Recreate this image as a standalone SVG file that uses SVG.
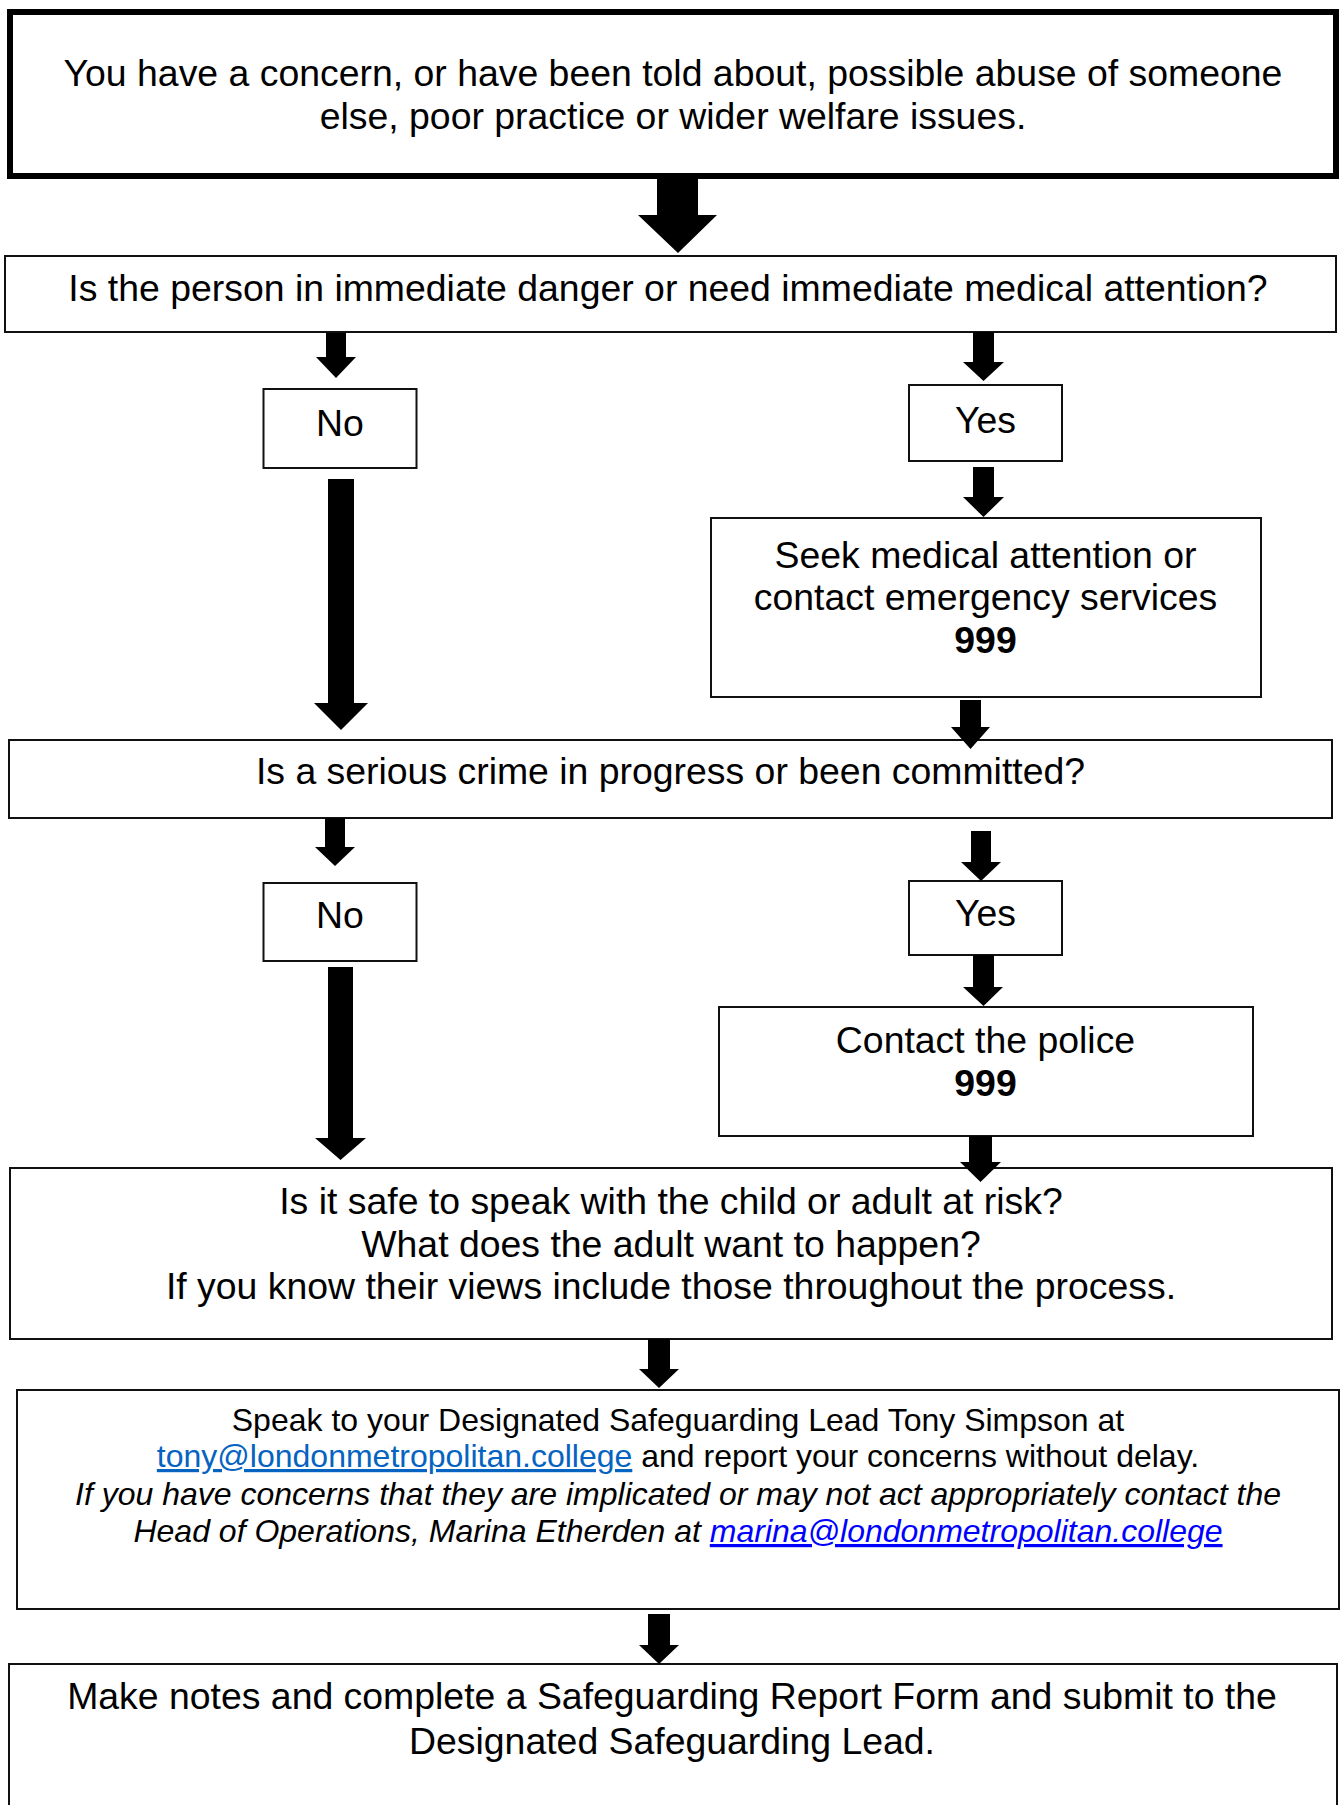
<svg xmlns="http://www.w3.org/2000/svg" width="1341" height="1805" viewBox="0 0 1341 1805">
<style>
.box{fill:#fff;stroke:#111;stroke-width:2}
.thick{fill:#fff;stroke:#000;stroke-width:6}
.t{font-family:"Liberation Sans",Arial,sans-serif;font-size:37.4px;fill:#000;text-anchor:middle}
.s{font-family:"Liberation Sans",Arial,sans-serif;font-size:32px;fill:#000;text-anchor:middle}
.b{font-weight:bold}
.i{font-style:italic}
.arr{fill:#000}
</style>
<rect width="1341" height="1805" fill="#fff"/>
<g id="start">
<rect class="thick" x="10" y="12" width="1326" height="164"/>
<text class="t" x="673" y="86">You have a concern, or have been told about, possible abuse of someone</text>
<text class="t" x="673" y="129">else, poor practice or wider welfare issues.</text>
</g>
<g id="q1">
<rect class="box" x="5" y="256" width="1331" height="76"/>
<text class="t" x="668" y="301">Is the person in immediate danger or need immediate medical attention?</text>
</g>
<g id="no1">
<rect class="box" x="263.5" y="389" width="153" height="79"/>
<text class="t" x="340" y="436">No</text>
</g>
<g id="yes1">
<rect class="box" x="909" y="385" width="153" height="76"/>
<text class="t" x="985.5" y="433">Yes</text>
</g>
<g id="medical">
<rect class="box" x="711" y="518" width="550" height="179"/>
<text class="t" x="985.5" y="568">Seek medical attention or</text>
<text class="t" x="985.5" y="610">contact emergency services</text>
<text class="t b" x="985.5" y="653">999</text>
</g>
<g id="q2">
<rect class="box" x="9" y="740" width="1323" height="78"/>
<text class="t" x="670.5" y="784">Is a serious crime in progress or been committed?</text>
</g>
<g id="no2">
<rect class="box" x="263.5" y="883" width="153" height="78"/>
<text class="t" x="340" y="928">No</text>
</g>
<g id="yes2">
<rect class="box" x="909" y="881" width="153" height="74"/>
<text class="t" x="985.5" y="926">Yes</text>
</g>
<g id="police">
<rect class="box" x="719" y="1007" width="534" height="129"/>
<text class="t" x="985.5" y="1053">Contact the police</text>
<text class="t b" x="985.5" y="1096">999</text>
</g>
<g id="q3">
<rect class="box" x="10" y="1168" width="1322" height="171"/>
<text class="t" x="671" y="1214">Is it safe to speak with the child or adult at risk?</text>
<text class="t" x="671" y="1257">What does the adult want to happen?</text>
<text class="t" x="671" y="1299">If you know their views include those throughout the process.</text>
</g>
<g id="dsl">
<rect class="box" x="17" y="1390" width="1322" height="219"/>
<text class="s" x="678" y="1431">Speak to your Designated Safeguarding Lead Tony Simpson at</text>
<text class="s" x="678" y="1467"><tspan fill="#0563C1" text-decoration="underline">tony@londonmetropolitan.college</tspan> and report your concerns without delay.</text>
<text class="s i" x="678" y="1505">If you have concerns that they are implicated or may not act appropriately contact the</text>
<text class="s i" x="678" y="1542">Head of Operations, Marina Etherden at <tspan fill="#0000FF" text-decoration="underline">marina@londonmetropolitan.college</tspan></text>
</g>
<g id="report">
<rect class="box" x="9" y="1664" width="1328" height="160"/>
<text class="t" x="672" y="1709">Make notes and complete a Safeguarding Report Form and submit to the</text>
<text class="t" x="672" y="1754">Designated Safeguarding Lead.</text>
</g>
<g id="connectors">
<polygon class="arr" points="657,179 698,179 698,215 717,215 678,253 638,215 657,215"/>
<polygon class="arr" points="326,333 346,333 346,357 356,357 336,378 316,357 326,357"/>
<polygon class="arr" points="973,332 994,332 994,362 1004,362 983.5,381 963,362 973,362"/>
<polygon class="arr" points="328,479 354,479 354,703 368,703 341,730 314,703 328,703"/>
<polygon class="arr" points="973,467 994,467 994,497 1004,497 983.5,517 963,497 973,497"/>
<polygon class="arr" points="960,700 981,700 981,727 990,727 970.5,749 951,727 960,727"/>
<polygon class="arr" points="325,818 345,818 345,847 355,847 335,866 315,847 325,847"/>
<polygon class="arr" points="971,831 991,831 991,862 1001,862 981,881 961,862 971,862"/>
<polygon class="arr" points="328,967 353,967 353,1138 366,1138 340.5,1160 315,1138 328,1138"/>
<polygon class="arr" points="973,955 994,955 994,987 1003,987 983.5,1006 963,987 973,987"/>
<polygon class="arr" points="969,1136 992,1136 992,1162 1001,1162 980.5,1182 960,1162 969,1162"/>
<polygon class="arr" points="648,1339 670,1339 670,1369 679,1369 659,1388 639,1369 648,1369"/>
<polygon class="arr" points="648,1614 670,1614 670,1645 679,1645 659,1664 639,1645 648,1645"/>
</g>
</svg>
